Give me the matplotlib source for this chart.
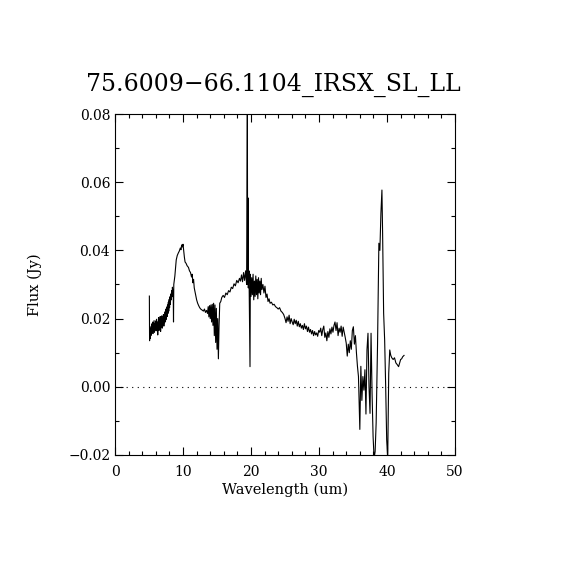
import matplotlib
matplotlib.use("Agg")
import matplotlib.pyplot as plt
from matplotlib.ticker import MultipleLocator

TITLE = "75.6009\u221266.1104_IRSX_SL_LL"

# wavelength (um) and flux (Jy)
wave = [
    5.05, 5.08, 5.13, 5.18, 5.23, 5.28, 5.33, 5.38, 5.44, 5.50,
    5.56, 5.62, 5.68, 5.74, 5.80, 5.86, 5.92, 5.98, 6.04, 6.10,
    6.16, 6.22, 6.28, 6.34, 6.40, 6.46, 6.52, 6.58, 6.64, 6.70,
    6.76, 6.82, 6.88, 6.94, 7.00, 7.06, 7.12, 7.18, 7.24, 7.30,
    7.36, 7.42, 7.48, 7.54, 7.60, 7.66, 7.72, 7.78, 7.84, 7.90,
    7.96, 8.02, 8.08, 8.14, 8.20, 8.26, 8.32, 8.38, 8.44, 8.50,
    8.56, 8.60, 8.64, 8.70, 8.80, 8.90, 9.00, 9.15, 9.30, 9.45,
    9.60, 9.70, 9.80, 9.90, 10.00, 10.10, 10.20, 10.30, 10.45, 10.60,
    10.80, 10.95, 11.10, 11.25, 11.35, 11.45, 11.55, 11.65, 11.75, 11.90,
    12.00, 12.15, 12.30, 12.45, 12.60, 12.80, 13.00, 13.15, 13.30, 13.45,
    13.60, 13.70, 13.80, 13.90, 14.00, 14.10, 14.20, 14.30, 14.40, 14.50,
    14.60, 14.70, 14.80, 14.90, 15.00, 15.10, 15.20, 15.30, 15.40, 15.55,
    15.70, 15.90, 16.10, 16.30, 16.50, 16.70, 16.90, 17.10, 17.30, 17.50,
    17.70, 17.90, 18.10, 18.30, 18.45, 18.60, 18.75, 18.90, 19.05, 19.20,
    19.35, 19.46, 19.50, 19.55, 19.60, 19.70, 19.85, 19.90, 20.00, 20.10,
    20.20, 20.30, 20.40, 20.50, 20.60, 20.70, 20.80, 20.90, 21.00, 21.10,
    21.20, 21.30, 21.40, 21.50, 21.60, 21.75, 21.90, 22.05, 22.20, 22.35,
    22.50, 22.65, 22.80, 23.00, 23.20, 23.40, 23.60, 23.80, 24.00, 24.20,
    24.40, 24.60, 24.80, 25.00, 25.15, 25.30, 25.45, 25.60, 25.75, 25.90,
    26.05, 26.20, 26.35, 26.50, 26.65, 26.80, 26.95, 27.10, 27.25, 27.40,
    27.55, 27.70, 27.85, 28.00, 28.15, 28.30, 28.45, 28.60, 28.75, 28.90,
    29.05, 29.20, 29.35, 29.50, 29.65, 29.80, 29.95, 30.10, 30.25, 30.40,
    30.55, 30.70, 30.85, 31.00, 31.15, 31.30, 31.45, 31.60, 31.75, 31.90,
    32.05, 32.20, 32.35, 32.50, 32.65, 32.80, 32.95, 33.10, 33.25, 33.40,
    33.55, 33.70, 33.85, 34.00, 34.15, 34.30, 34.45, 34.60, 34.75, 34.90,
    35.05, 35.20, 35.35, 35.50, 35.65, 35.80, 36.00, 36.15, 36.30, 36.45,
    36.60, 36.75, 36.90, 37.05, 37.20, 37.35, 37.50, 37.65, 37.80, 37.95,
    38.10, 38.25, 38.40, 38.60, 38.80, 38.95, 39.10, 39.25, 39.35, 39.50,
    39.65, 39.80, 39.95, 40.10, 40.25, 40.40, 40.55, 40.70, 40.90, 41.10,
    41.30, 41.50, 41.70, 41.85, 42.00, 42.15, 42.30, 42.50,
]

flux = [
    0.0266, 0.0135, 0.0160, 0.0142, 0.0172, 0.0150, 0.0178, 0.0155, 0.0185, 0.0158,
    0.0190, 0.0156, 0.0175, 0.0194, 0.0160, 0.0186, 0.0168, 0.0193, 0.0164, 0.0198,
    0.0170, 0.0190, 0.0152, 0.0185, 0.0203, 0.0165, 0.0195, 0.0172, 0.0206, 0.0162,
    0.0198, 0.0178, 0.0208, 0.0172, 0.0200, 0.0182, 0.0212, 0.0178, 0.0205, 0.0188,
    0.0220, 0.0192, 0.0228, 0.0198, 0.0234, 0.0206, 0.0240, 0.0215, 0.0248, 0.0222,
    0.0256, 0.0232, 0.0264, 0.0242, 0.0272, 0.0255, 0.0282, 0.0264, 0.0292, 0.0278,
    0.0275, 0.0190, 0.0300, 0.0310, 0.0325, 0.0350, 0.0372, 0.0385, 0.0392, 0.0398,
    0.0407, 0.0402, 0.0416, 0.0410, 0.0418, 0.0398, 0.0380, 0.0366, 0.0362, 0.0355,
    0.0350, 0.0340, 0.0335, 0.0322, 0.0330, 0.0305, 0.0315, 0.0290, 0.0280, 0.0265,
    0.0255, 0.0245, 0.0238, 0.0232, 0.0228, 0.0225, 0.0222, 0.0228, 0.0218, 0.0224,
    0.0215, 0.0235, 0.0205, 0.0238, 0.0200, 0.0240, 0.0190, 0.0242, 0.0180, 0.0245,
    0.0150, 0.0240, 0.0130, 0.0230, 0.0110, 0.0200, 0.0082, 0.0180, 0.0245, 0.0250,
    0.0262, 0.0268, 0.0262, 0.0275, 0.0270, 0.0282, 0.0278, 0.0292, 0.0288, 0.0302,
    0.0296, 0.0312, 0.0305, 0.0318, 0.0310, 0.0328, 0.0308, 0.0335, 0.0312, 0.0340,
    0.0300, 0.0850, 0.0300, 0.0554, 0.0290, 0.0340, 0.0059, 0.0330, 0.0265, 0.0320,
    0.0270, 0.0330, 0.0255, 0.0310, 0.0265, 0.0325, 0.0270, 0.0315, 0.0258, 0.0320,
    0.0275, 0.0310, 0.0270, 0.0318, 0.0285, 0.0300, 0.0275, 0.0295, 0.0262, 0.0272,
    0.0250, 0.0258, 0.0245, 0.0248, 0.0240, 0.0242, 0.0235, 0.0232, 0.0228, 0.0232,
    0.0222, 0.0218, 0.0212, 0.0200, 0.0188, 0.0205, 0.0192, 0.0210, 0.0185, 0.0200,
    0.0190, 0.0182, 0.0198, 0.0185, 0.0195, 0.0178, 0.0192, 0.0176, 0.0185, 0.0172,
    0.0180, 0.0168, 0.0185, 0.0170, 0.0178, 0.0162, 0.0175, 0.0160, 0.0168, 0.0155,
    0.0165, 0.0150, 0.0162, 0.0152, 0.0158, 0.0148, 0.0165, 0.0160, 0.0172, 0.0150,
    0.0168, 0.0178, 0.0145, 0.0158, 0.0135, 0.0162, 0.0145, 0.0170, 0.0155, 0.0175,
    0.0160, 0.0180, 0.0190, 0.0165, 0.0188, 0.0150, 0.0172, 0.0160, 0.0178, 0.0148,
    0.0175, 0.0160, 0.0145, 0.0128, 0.0090, 0.0125, 0.0100, 0.0135, 0.0110, 0.0165,
    0.0176, 0.0125, 0.0150, 0.0100, 0.0060, 0.0030, -0.0125, 0.0060, -0.0040, 0.0030,
    -0.0010, 0.0050, -0.0080, 0.0108, 0.0157, 0.0000, -0.0078, 0.0157, -0.0020, -0.0146,
    -0.0210, -0.0190, -0.0106, 0.0118, 0.0421, 0.0400, 0.0509, 0.0577, 0.0450, 0.0216,
    0.0137, 0.0001, -0.0156, -0.0210, 0.0040, 0.0108, 0.0092, 0.0085, 0.0080, 0.0085,
    0.0070, 0.0065, 0.0059, 0.0070, 0.0080, 0.0082, 0.0088, 0.0092,
]

plt.rcParams["font.family"] = ["DejaVu Serif"]

fig = plt.figure(figsize=(5.7, 5.7), dpi=100)
ax = fig.add_axes([0.2018, 0.2018, 0.5965, 0.5982])

ax.plot(wave, flux, color="black", linewidth=0.8)
ax.axhline(0.0, color="black", linewidth=0.8, linestyle=(0, (1, 4)))

ax.set_xlim(0, 50)
ax.set_ylim(-0.02, 0.08)
ax.xaxis.set_major_locator(MultipleLocator(10))
ax.xaxis.set_minor_locator(MultipleLocator(2))
ax.yaxis.set_major_locator(MultipleLocator(0.02))
ax.yaxis.set_minor_locator(MultipleLocator(0.01))
ax.yaxis.set_major_formatter(plt.FuncFormatter(lambda v, p: f"{v:.2f}".replace("-", "\u2212")))

ax.tick_params(which="both", direction="in", top=True, right=True, width=0.8, labelsize=10)
ax.tick_params(which="major", length=6)
ax.tick_params(axis="x", which="both", pad=7)
ax.tick_params(which="minor", length=3)
for s in ax.spines.values():
    s.set_linewidth(0.8)

ax.set_xlabel("Wavelength (um)", fontsize=10.5, labelpad=3)
ax.set_ylabel("Flux (Jy)", fontsize=10.5, labelpad=19)
ax.set_title(TITLE, fontsize=17, pad=17, x=0.466)

fig.savefig("out.png", dpi=100)
